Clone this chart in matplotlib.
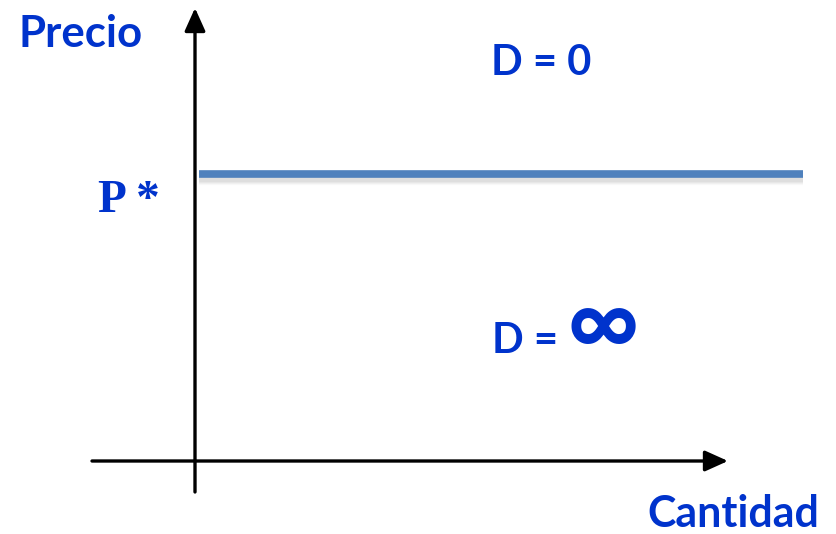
import matplotlib
matplotlib.use("Agg")
import matplotlib.pyplot as plt

# diagram coordinates: origin at the axes crossing (units ~ pixels)
x_axis = [-103, 533]        # quantity axis, left end to arrow tip
y_axis = [-31, 453]         # price axis, bottom end to arrow tip
price_star = 287            # P*
line_q = [4, 608]           # horizontal demand curve extent

blue = "#0033CC"
line_blue = "#4F81BD"

fig = plt.figure(figsize=(8.37, 5.34), dpi=100)
ax = fig.add_axes([0, 0, 1, 1])
ax.set_xlim(-195, 642)
ax.set_ylim(-73, 461)
ax.axis("off")

arrow = dict(arrowstyle="-|>,head_length=1.0,head_width=0.45", color="black",
             lw=2.4, shrinkA=0, shrinkB=0, mutation_scale=14)
ax.annotate("", xy=(x_axis[1], 0), xytext=(x_axis[0], 0), arrowprops=arrow)
ax.annotate("", xy=(0, y_axis[1]), xytext=(0, y_axis[0]), arrowprops=arrow)

# soft shadow under the demand line
for k, a in enumerate([0.10, 0.08, 0.06, 0.04]):
    ax.plot(line_q, [price_star - 4 - k, price_star - 4 - k], color="gray",
            lw=6, alpha=a, solid_capstyle="butt")
ax.plot(line_q, [price_star, price_star], color=line_blue, lw=5.5,
        solid_capstyle="butt")

sans = ["Lato", "DejaVu Sans"]
ax.text(-176, 427, "Precio", color=blue, fontsize=31.5, fontweight="bold",
        family=sans, ha="left", va="center")
ax.text(624, -53, "Cantidad", color=blue, fontsize=31, fontweight="bold",
        family=sans, ha="right", va="center")
ax.text(346, 398, "D = 0", color=blue, fontsize=30, fontweight="bold",
        family=sans, ha="center", va="center")
ax.text(297, 120, "D =", color=blue, fontsize=30, fontweight="bold",
        family=sans, ha="left", va="center")
ax.text(408, 134, "\u221e", color=blue, fontsize=72, fontweight="bold",
        family=sans, ha="center", va="center")
ax.text(-97, 260, "P *", color=blue, fontsize=34, fontweight="bold",
        family=["Liberation Serif", "DejaVu Serif"], ha="left", va="center")

fig.savefig("out.png", dpi=100)
